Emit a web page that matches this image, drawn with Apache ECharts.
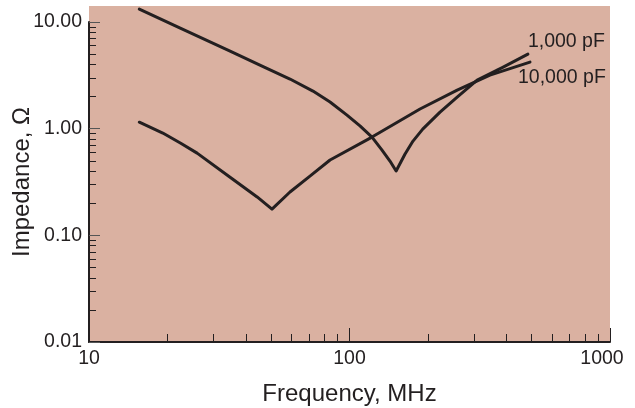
<!DOCTYPE html>
<html>
<head>
<meta charset="utf-8">
<script src="https://cdn.jsdelivr.net/npm/echarts@6/dist/echarts.min.js"></script>
<style>
  html, body { margin: 0; padding: 0; background: #ffffff; }
  #chart { width: 635px; height: 408px; }
</style>
</head>
<body>
<div id="chart"></div>
<script>
// ---- Data ----
const freq1000 = [15.6, 22.4, 34.8, 45.3, 59.1, 72.4, 84.2, 97.8, 109.7, 122, 133.3, 143, 151,
                  163.4, 175.3, 191, 222.6, 259, 309, 389, 484];
const imp1000  = [13.2, 8.77, 5.34, 3.94, 2.92, 2.25, 1.78, 1.34, 1.06, 0.834, 0.63, 0.497, 0.401,
                  0.578, 0.765, 0.99, 1.43, 1.98, 2.85, 3.78, 5.0];

const freq10000 = [15.6, 19.2, 22.5, 26.0, 34.8, 44.2, 50.4, 59.1, 70.5, 84.2, 122, 186.5, 259, 346, 493];
const imp10000  = [1.15, 0.91, 0.73, 0.59, 0.351, 0.229, 0.176, 0.255, 0.359, 0.508, 0.834, 1.53, 2.30, 3.18, 4.21];

const seriesNames = ['1,000 pF', '10,000 pF'];

const xMajorTicks = [10, 100, 1000];
const xMinorTicks = [20, 30, 40, 50, 60, 70, 80, 90, 200, 300, 400, 500, 600, 700, 800, 900];
const yMajorTicks = [0.01, 0.1, 1, 10];
const yMinorTicks = [0.02, 0.03, 0.04, 0.05, 0.06, 0.07, 0.08, 0.09,
                     0.2, 0.3, 0.4, 0.5, 0.6, 0.7, 0.8, 0.9,
                     2, 3, 4, 5, 6, 7, 8, 9];

const xMin = 10, xMax = 1000;
const yMin = 0.01, yAxisTop = 10, yMax = 14.125;

// ---- Styles ----
const INK = '#231f20';
const FONT = '"Liberation Sans", Arial, Helvetica, sans-serif';

const chart = echarts.init(document.getElementById('chart'), null, { renderer: 'canvas' });

function pairs(xs, ys) { return xs.map((x, i) => [x, ys[i]]); }

const option = {
  animation: false,
  backgroundColor: '#ffffff',
  grid: [
    { // plotting area with tinted background (extends a little above 10)
      left: 89, right: 25, top: 6, bottom: 66,
      show: true, backgroundColor: '#dab1a1', borderWidth: 0,
      containLabel: false, outerBoundsMode: 'none'
    },
    { // axis frame: the left axis line runs from 0.01 to 10 only
      left: 89, right: 25, top: 22, bottom: 66,
      show: false, containLabel: false, outerBoundsMode: 'none'
    }
  ],
  xAxis: [
    {
      gridIndex: 0, type: 'log', min: xMin, max: xMax, position: 'bottom',
      axisLine: { show: true, onZero: false, lineStyle: { color: INK, width: 2 } },
      axisTick: { show: true, inside: true, length: 14, customValues: xMajorTicks, lineStyle: { color: INK, width: 1 } },
      axisLabel: {
        show: true, customValues: xMajorTicks, margin: 7,
        fontFamily: FONT, fontSize: 19.5, color: INK,
        formatter: function (v) {
          const s = String(Math.round(v));
          return Math.round(v) === xMax ? '{r|' + s + '}' : s;
        },
        rich: { r: { fontFamily: FONT, fontSize: 19.5, color: INK, padding: [0, 16, 0, 0] } }
      },
      splitLine: { show: false },
      name: 'Frequency, MHz', nameLocation: 'middle', nameGap: 40,
      nameTextStyle: { fontFamily: FONT, fontSize: 24, color: INK }
    },
    {
      gridIndex: 0, type: 'log', min: xMin, max: xMax, position: 'bottom',
      axisLine: { show: false },
      axisTick: { show: true, inside: true, length: 8, customValues: xMinorTicks, lineStyle: { color: INK, width: 1 } },
      axisLabel: { show: false },
      splitLine: { show: false }
    },
    {
      gridIndex: 1, type: 'log', min: xMin, max: xMax, show: false
    }
  ],
  yAxis: [
    {
      gridIndex: 0, type: 'log', min: yMin, max: yMax, position: 'left',
      axisLine: { show: false },
      axisTick: { show: true, inside: true, length: 11, customValues: yMajorTicks, lineStyle: { color: '#555', width: 1 } },
      axisLabel: {
        show: true, customValues: yMajorTicks, margin: 7,
        fontFamily: FONT, fontSize: 19.5, color: INK,
        formatter: function (v) { return Number(v).toFixed(2); }
      },
      splitLine: { show: false }
    },
    {
      gridIndex: 1, type: 'log', min: yMin, max: yAxisTop, position: 'left',
      axisLine: { show: true, onZero: false, lineStyle: { color: INK, width: 2 } },
      axisTick: { show: true, inside: true, length: 7, customValues: yMinorTicks, lineStyle: { color: INK, width: 1 } },
      axisLabel: { show: false },
      splitLine: { show: false },
      name: 'Impedance, Ω', nameLocation: 'middle', nameGap: 55, nameRotate: 90,
      nameTextStyle: { fontFamily: FONT, fontSize: 24, color: INK }
    }
  ],
  series: [
    {
      name: seriesNames[0], type: 'line', xAxisIndex: 0, yAxisIndex: 0,
      data: pairs(freq1000, imp1000),
      showSymbol: false, symbol: 'none', smooth: false, clip: false,
      lineStyle: { color: INK, width: 3, cap: 'round', join: 'round' },
      endLabel: {
        show: true, formatter: seriesNames[0], fontFamily: FONT, fontSize: 19.5, color: INK,
        offset: [-8, -12]
      },
      z: 3
    },
    {
      name: seriesNames[1], type: 'line', xAxisIndex: 0, yAxisIndex: 0,
      data: pairs(freq10000, imp10000),
      showSymbol: false, symbol: 'none', smooth: false, clip: false,
      lineStyle: { color: INK, width: 3, cap: 'round', join: 'round' },
      endLabel: {
        show: true, formatter: seriesNames[1], fontFamily: FONT, fontSize: 19.5, color: INK,
        offset: [-20, 16]
      },
      z: 3
    }
  ]
};

chart.setOption(option);
</script>
</body>
</html>
